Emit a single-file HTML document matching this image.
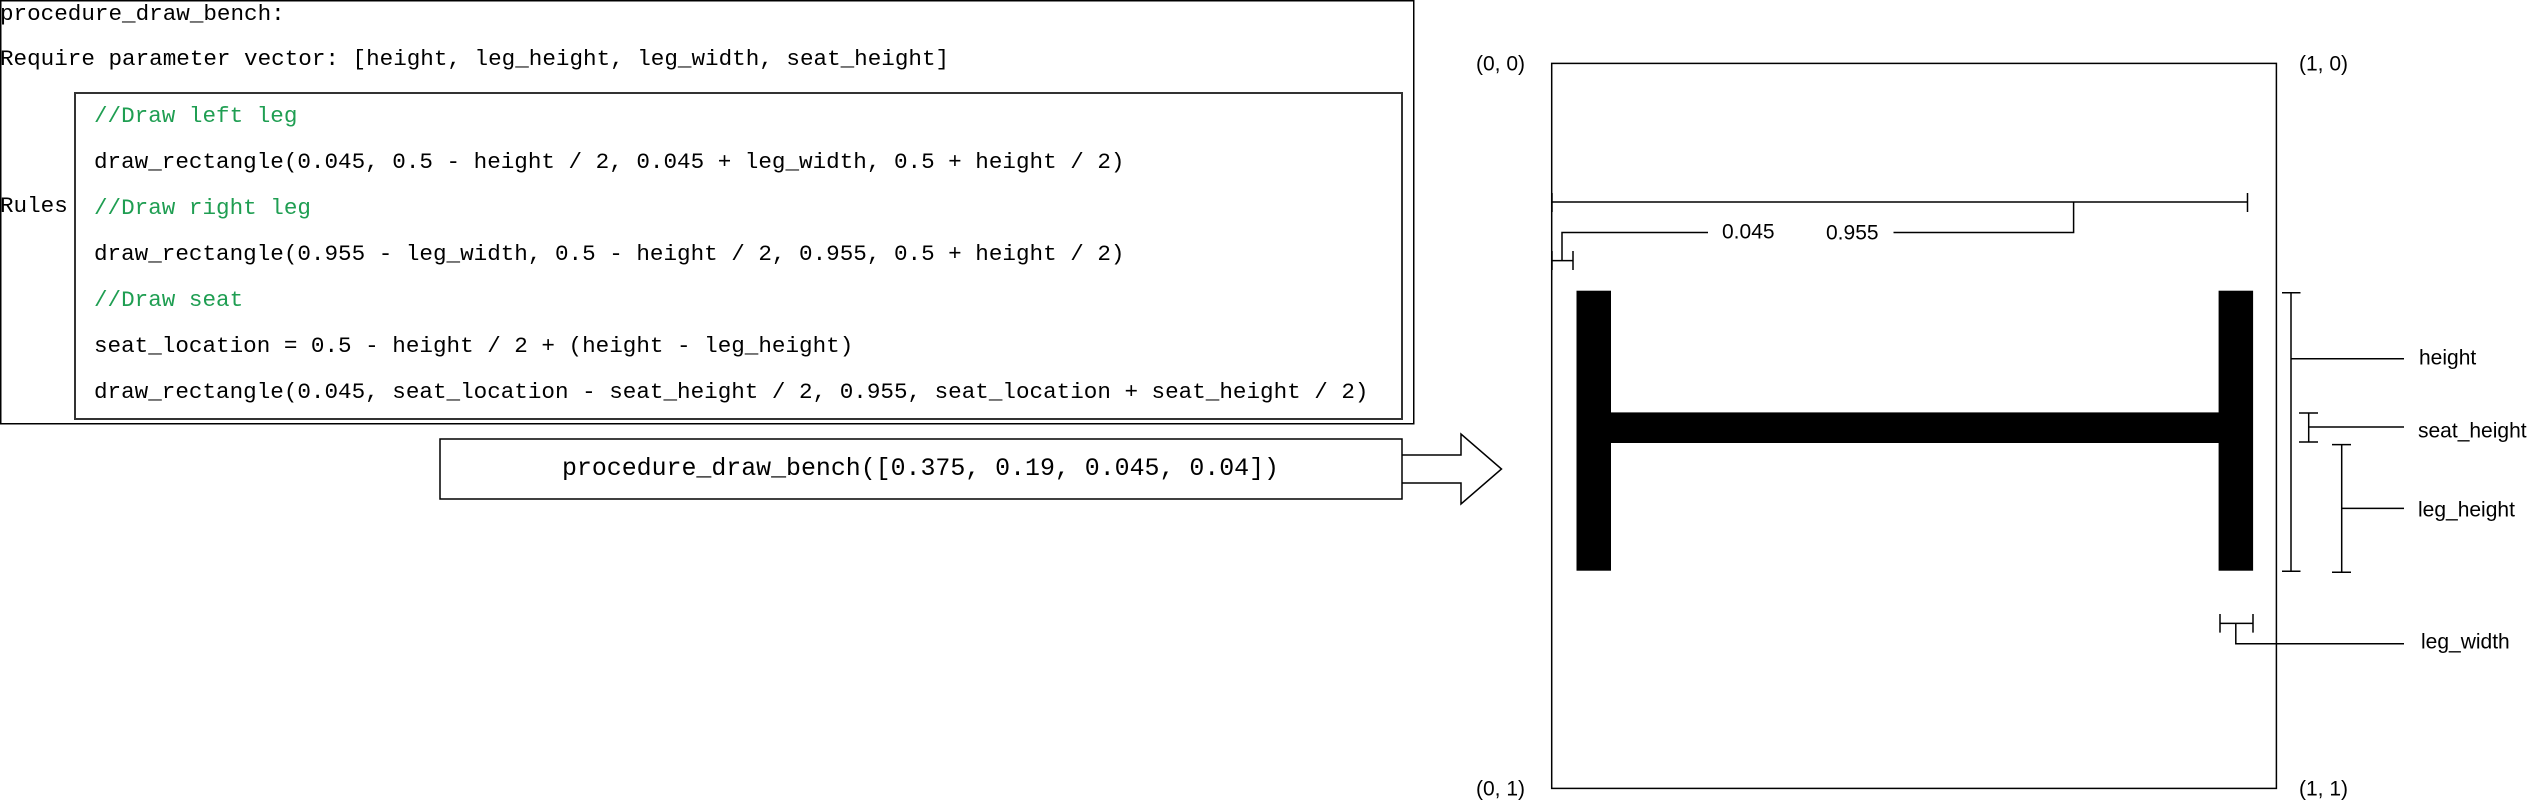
<!DOCTYPE html>
<html><head><meta charset="utf-8"><style>
html,body{margin:0;padding:0;background:#fff;}
svg{display:block}
.m{font-family:"Liberation Mono",monospace;font-size:22.6px;fill:#000}
.g{fill:#1f9e52}
.s{font-family:"Liberation Sans",sans-serif;font-size:21px;fill:#000}
</style></head><body>
<svg width="2528" height="801" viewBox="0 0 2528 801" xmlns="http://www.w3.org/2000/svg">
<g fill="none" stroke="#000" stroke-width="1.5">
<rect x="0.75" y="0.75" width="1413" height="423"/>
<rect x="75" y="93" width="1327" height="326" stroke="#333" stroke-width="2"/>
<rect x="440" y="439" width="962" height="60"/>
<path d="M1402 455 H1461 V434 L1501.5 469 L1461 504 V483 H1402"/>
<rect x="1551.7" y="63.4" width="724.7" height="725"/>
</g>
<g dominant-baseline="central">
<text class="m" x="0" y="14">procedure_draw_bench:</text>
<text class="m" x="0" y="59">Require parameter vector: [height, leg_height, leg_width, seat_height]</text>
<text class="m" x="0" y="206">Rules</text>
<text class="m g" x="94" y="116">//Draw left leg</text>
<text class="m" x="94" y="162">draw_rectangle(0.045, 0.5 - height / 2, 0.045 + leg_width, 0.5 + height / 2)</text>
<text class="m g" x="94" y="208">//Draw right leg</text>
<text class="m" x="94" y="254">draw_rectangle(0.955 - leg_width, 0.5 - height / 2, 0.955, 0.5 + height / 2)</text>
<text class="m g" x="94" y="300">//Draw seat</text>
<text class="m" x="94" y="346">seat_location = 0.5 - height / 2 + (height - leg_height)</text>
<text class="m" x="94" y="392">draw_rectangle(0.045, seat_location - seat_height / 2, 0.955, seat_location + seat_height / 2)</text>
<text class="m" x="562" y="469" style="font-size:24.9px">procedure_draw_bench([0.375, 0.19, 0.045, 0.04])</text>

<text class="s" x="1476" y="64">(0, 0)</text>
<text class="s" x="2299" y="64">(1, 0)</text>
<text class="s" x="1476" y="789">(0, 1)</text>
<text class="s" x="2299" y="789">(1, 1)</text>
<text class="s" x="1722" y="232">0.045</text>
<text class="s" x="1826" y="233">0.955</text>
<text class="s" x="2419" y="358">height</text>
<text class="s" x="2418" y="431">seat_height</text>
<text class="s" x="2418" y="510">leg_height</text>
<text class="s" x="2421" y="642">leg_width</text>
</g>
<g fill="#000">
<rect x="1576.5" y="290.7" width="34.5" height="280"/>
<rect x="2218.6" y="290.7" width="34.5" height="280"/>
<rect x="1576.5" y="412.4" width="676.5" height="30.6"/>
</g>
<g fill="none" stroke="#000" stroke-width="1.5">
<path d="M1552 202 H2247.5 M1552 193 V212 M2247.5 193 V212"/>
<path d="M2073.6 202 V232.5 H1893.5"/>
<path d="M1708 232.5 H1562 V260.6"/>
<path d="M1552 260.6 H1573 M1552 251 V270 M1573 251 V270"/>
<path d="M2291 292.8 V571.3 M2282 292.8 H2300.5 M2282 571.3 H2300.5 M2291 358.7 H2404"/>
<path d="M2308.7 413 V442 M2299 413 H2318 M2299 442 H2318 M2308.7 427 H2404"/>
<path d="M2341.7 444.6 V572.3 M2332 444.6 H2351 M2332 572.3 H2351 M2341.7 508.4 H2404"/>
<path d="M2220 623.4 H2253 M2220 614 V632.6 M2253 614 V632.6 M2235.8 623.4 V643.8 H2404"/>
</g>
</svg>
</body></html>
